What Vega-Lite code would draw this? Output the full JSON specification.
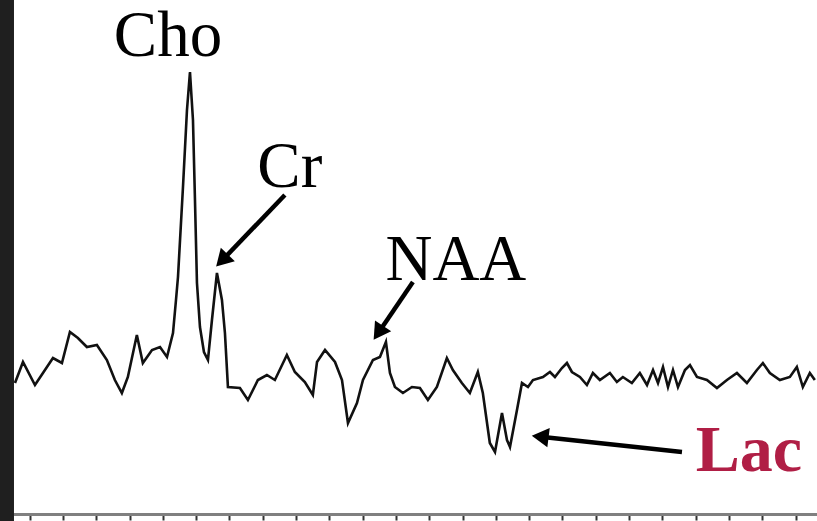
{
  "$schema": "https://vega.github.io/schema/vega-lite/v6.json",
  "width": 817,
  "height": 514,
  "padding": {"left": 0, "top": 0, "right": 0, "bottom": 7},
  "autosize": "none",
  "background": "white",
  "config": {"view": {"stroke": null}},
  "datasets": {
    "spectrum": [
      {"ppm": 4.288, "v": 131}, {"ppm": 4.240, "v": 152}, {"ppm": 4.168, "v": 129}, {"ppm": 4.120, "v": 141},
      {"ppm": 4.060, "v": 156}, {"ppm": 4.006, "v": 151}, {"ppm": 3.958, "v": 182}, {"ppm": 3.910, "v": 176},
      {"ppm": 3.856, "v": 167}, {"ppm": 3.796, "v": 169}, {"ppm": 3.736, "v": 154}, {"ppm": 3.688, "v": 134},
      {"ppm": 3.646, "v": 121}, {"ppm": 3.610, "v": 137}, {"ppm": 3.556, "v": 179}, {"ppm": 3.520, "v": 151},
      {"ppm": 3.465, "v": 164}, {"ppm": 3.417, "v": 167}, {"ppm": 3.375, "v": 157}, {"ppm": 3.339, "v": 181},
      {"ppm": 3.321, "v": 214}, {"ppm": 3.309, "v": 237}, {"ppm": 3.279, "v": 327}, {"ppm": 3.255, "v": 404},
      {"ppm": 3.237, "v": 442}, {"ppm": 3.219, "v": 394}, {"ppm": 3.207, "v": 314}, {"ppm": 3.195, "v": 231},
      {"ppm": 3.177, "v": 187}, {"ppm": 3.153, "v": 162}, {"ppm": 3.129, "v": 154}, {"ppm": 3.105, "v": 194},
      {"ppm": 3.075, "v": 241}, {"ppm": 3.045, "v": 214}, {"ppm": 3.027, "v": 181}, {"ppm": 3.009, "v": 127},
      {"ppm": 2.937, "v": 126}, {"ppm": 2.889, "v": 114}, {"ppm": 2.829, "v": 134}, {"ppm": 2.775, "v": 139},
      {"ppm": 2.727, "v": 134}, {"ppm": 2.655, "v": 159}, {"ppm": 2.607, "v": 142}, {"ppm": 2.547, "v": 132},
      {"ppm": 2.499, "v": 119}, {"ppm": 2.474, "v": 152}, {"ppm": 2.426, "v": 164}, {"ppm": 2.366, "v": 152},
      {"ppm": 2.324, "v": 134}, {"ppm": 2.288, "v": 91}, {"ppm": 2.234, "v": 111}, {"ppm": 2.198, "v": 134},
      {"ppm": 2.138, "v": 154}, {"ppm": 2.096, "v": 157}, {"ppm": 2.060, "v": 172}, {"ppm": 2.036, "v": 141},
      {"ppm": 2.006, "v": 127}, {"ppm": 1.958, "v": 121}, {"ppm": 1.904, "v": 127}, {"ppm": 1.856, "v": 126},
      {"ppm": 1.808, "v": 114}, {"ppm": 1.754, "v": 127}, {"ppm": 1.694, "v": 156}, {"ppm": 1.658, "v": 144},
      {"ppm": 1.604, "v": 131}, {"ppm": 1.556, "v": 121}, {"ppm": 1.508, "v": 142}, {"ppm": 1.478, "v": 121},
      {"ppm": 1.436, "v": 71}, {"ppm": 1.405, "v": 62}, {"ppm": 1.363, "v": 101}, {"ppm": 1.333, "v": 74},
      {"ppm": 1.315, "v": 67}, {"ppm": 1.273, "v": 104}, {"ppm": 1.243, "v": 131}, {"ppm": 1.207, "v": 127},
      {"ppm": 1.177, "v": 134}, {"ppm": 1.117, "v": 137}, {"ppm": 1.075, "v": 142}, {"ppm": 1.045, "v": 137},
      {"ppm": 1.003, "v": 146}, {"ppm": 0.973, "v": 151}, {"ppm": 0.943, "v": 142}, {"ppm": 0.895, "v": 137},
      {"ppm": 0.853, "v": 129}, {"ppm": 0.817, "v": 141}, {"ppm": 0.775, "v": 134}, {"ppm": 0.715, "v": 141},
      {"ppm": 0.673, "v": 132}, {"ppm": 0.637, "v": 137}, {"ppm": 0.583, "v": 131}, {"ppm": 0.535, "v": 141},
      {"ppm": 0.492, "v": 129}, {"ppm": 0.456, "v": 144}, {"ppm": 0.426, "v": 131}, {"ppm": 0.396, "v": 147},
      {"ppm": 0.366, "v": 127}, {"ppm": 0.336, "v": 144}, {"ppm": 0.306, "v": 127}, {"ppm": 0.264, "v": 144},
      {"ppm": 0.234, "v": 149}, {"ppm": 0.192, "v": 137}, {"ppm": 0.132, "v": 134}, {"ppm": 0.072, "v": 126},
      {"ppm": 0.012, "v": 134}, {"ppm": -0.048, "v": 141}, {"ppm": -0.108, "v": 131}, {"ppm": -0.168, "v": 144},
      {"ppm": -0.204, "v": 151}, {"ppm": -0.246, "v": 141}, {"ppm": -0.306, "v": 134}, {"ppm": -0.366, "v": 137},
      {"ppm": -0.408, "v": 147}, {"ppm": -0.444, "v": 127}, {"ppm": -0.486, "v": 141}, {"ppm": -0.516, "v": 134}
    ],
    "labels": [
      {"label": "Cho", "ppm": 3.369, "v": 458},
      {"label": "Cr", "ppm": 2.637, "v": 327},
      {"label": "NAA", "ppm": 1.640, "v": 234},
      {"label": "Lac", "ppm": -0.120, "v": 43}
    ],
    "arrows": [
      {"label": "Cr", "ppm": 2.667, "v": 319, "ppm2": 3.033, "v2": 255.5},
      {"label": "NAA", "ppm": 1.898, "v": 232, "ppm2": 2.096, "v2": 183.5},
      {"label": "Lac", "ppm": 0.282, "v": 62, "ppm2": 1.117, "v2": 77}
    ],
    "strip": [
      {"ppm": 4.378, "ppm2": 4.294, "v": -20, "v2": 514}
    ]
  },
  "layer": [
    {
      "data": {"name": "spectrum"},
      "mark": {"type": "line", "color": "#111111", "strokeWidth": 2.6},
      "encoding": {
        "x": {
          "field": "ppm", "type": "quantitative",
          "scale": {"domain": [4.378, -0.529], "nice": false, "zero": false},
          "axis": {
            "title": null, "labels": false, "grid": false, "labelOverlap": false, "tickCount": 40,
            "values": [4.2, 4, 3.8, 3.6, 3.4, 3.2, 3, 2.8, 2.6, 2.4, 2.2, 2, 1.8, 1.6, 1.4, 1.2, 1, 0.8, 0.6, 0.4, 0.2, 0, -0.2, -0.4],
            "domainColor": "#808080", "domainWidth": 3,
            "tickColor": "#333333", "tickWidth": 2, "tickSize": 6
          }
        },
        "y": {
          "field": "v", "type": "quantitative",
          "scale": {"domain": [0, 514], "nice": false, "zero": false},
          "axis": null
        }
      }
    },
    {
      "data": {"name": "strip"},
      "mark": {"type": "rect", "color": "#1f1f1f", "clip": false},
      "encoding": {
        "x": {"field": "ppm", "type": "quantitative"},
        "x2": {"field": "ppm2"},
        "y": {"field": "v", "type": "quantitative"},
        "y2": {"field": "v2"}
      }
    },
    {
      "data": {"name": "arrows"},
      "mark": {"type": "rule", "color": "#000000", "strokeWidth": 4.5},
      "encoding": {
        "x": {"field": "ppm", "type": "quantitative"},
        "x2": {"field": "ppm2"},
        "y": {"field": "v", "type": "quantitative"},
        "y2": {"field": "v2"}
      }
    },
    {
      "data": {"name": "arrows"},
      "transform": [{"filter": "datum.label == 'Cr'"}],
      "mark": {"type": "point", "shape": "triangle", "filled": true, "color": "#000000", "size": 380, "angle": 224, "opacity": 1},
      "encoding": {
        "x": {"field": "ppm2", "type": "quantitative"},
        "y": {"field": "v2", "type": "quantitative"}
      }
    },
    {
      "data": {"name": "arrows"},
      "transform": [{"filter": "datum.label == 'NAA'"}],
      "mark": {"type": "point", "shape": "triangle", "filled": true, "color": "#000000", "size": 380, "angle": 214, "opacity": 1},
      "encoding": {
        "x": {"field": "ppm2", "type": "quantitative"},
        "y": {"field": "v2", "type": "quantitative"}
      }
    },
    {
      "data": {"name": "arrows"},
      "transform": [{"filter": "datum.label == 'Lac'"}],
      "mark": {"type": "point", "shape": "triangle", "filled": true, "color": "#000000", "size": 380, "angle": 277, "opacity": 1},
      "encoding": {
        "x": {"field": "ppm2", "type": "quantitative"},
        "y": {"field": "v2", "type": "quantitative"}
      }
    },
    {
      "data": {"name": "labels"},
      "transform": [{"filter": "datum.label != 'Lac'"}],
      "mark": {"type": "text", "font": "Liberation Serif", "fontSize": 65, "fontWeight": "normal", "color": "#000000", "align": "center", "baseline": "alphabetic"},
      "encoding": {
        "x": {"field": "ppm", "type": "quantitative"},
        "y": {"field": "v", "type": "quantitative"},
        "text": {"field": "label"}
      }
    },
    {
      "data": {"name": "labels"},
      "transform": [{"filter": "datum.label == 'Lac'"}],
      "mark": {"type": "text", "font": "Liberation Serif", "fontSize": 66, "fontWeight": "bold", "color": "#b01e45", "align": "center", "baseline": "alphabetic"},
      "encoding": {
        "x": {"field": "ppm", "type": "quantitative"},
        "y": {"field": "v", "type": "quantitative"},
        "text": {"field": "label"}
      }
    }
  ]
}
